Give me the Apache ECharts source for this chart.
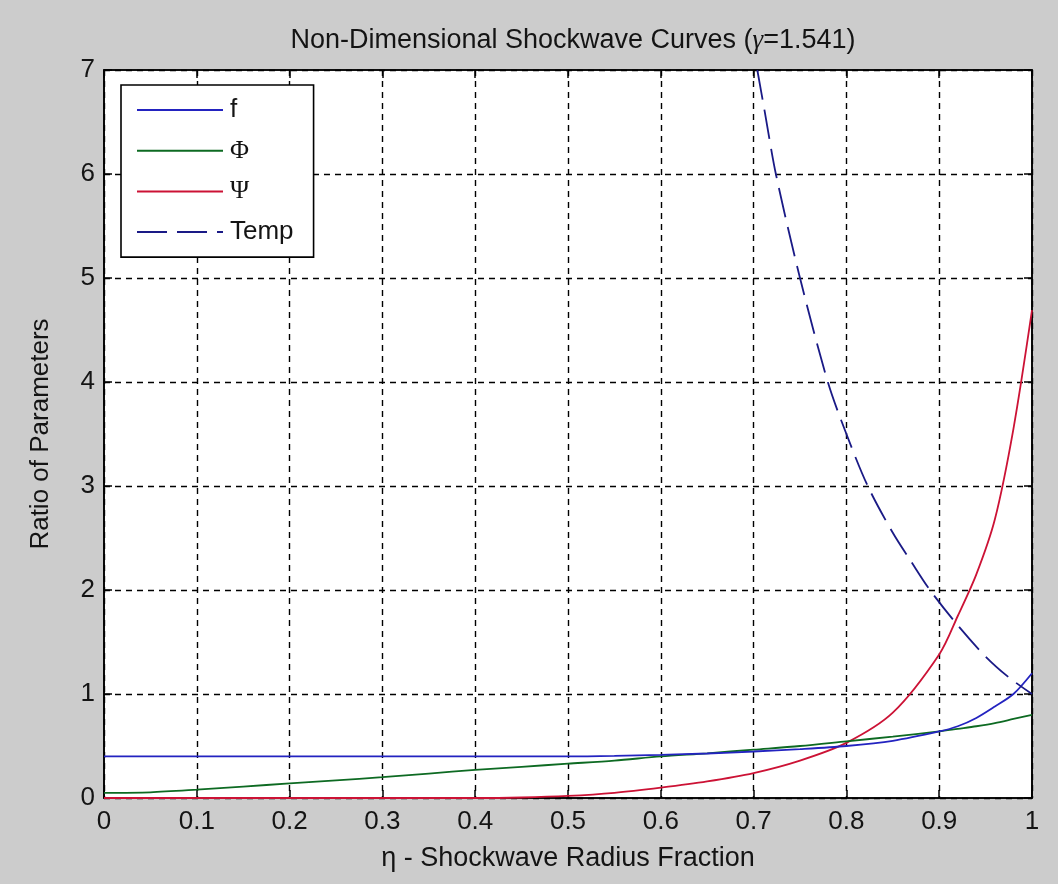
<!DOCTYPE html>
<html>
<head>
<meta charset="utf-8">
<title>Non-Dimensional Shockwave Curves</title>
<script src="https://cdn.jsdelivr.net/npm/echarts@6/dist/echarts.min.js"></script>
<style>
  html, body { margin: 0; padding: 0; background: #cccccc; }
  #chart { width: 1058px; height: 884px; }
</style>
</head>
<body>
<div id="chart"></div>
<script>
// Radius fraction samples shared by f, Phi and Psi
const eta = [0, 0.05, 0.1, 0.15, 0.2, 0.25, 0.3, 0.35, 0.4, 0.45, 0.5, 0.55, 0.6, 0.65, 0.7, 0.75, 0.8, 0.85, 0.9, 0.92, 0.94, 0.96, 0.98, 1.0];
const fVals = [0.40, 0.40, 0.40, 0.40, 0.40, 0.40, 0.40, 0.40, 0.40, 0.40, 0.40, 0.405, 0.415, 0.428, 0.447, 0.47, 0.50, 0.55, 0.64, 0.69, 0.77, 0.88, 1.0, 1.2];
const phiVals = [0.05, 0.055, 0.08, 0.11, 0.14, 0.17, 0.20, 0.235, 0.27, 0.30, 0.33, 0.36, 0.40, 0.43, 0.465, 0.50, 0.545, 0.59, 0.64, 0.665, 0.69, 0.72, 0.76, 0.80];
const psiVals = [0, 0, 0, 0, 0, 0, 0, 0, 0, 0.005, 0.02, 0.05, 0.10, 0.16, 0.24, 0.36, 0.53, 0.82, 1.38, 1.75, 2.15, 2.68, 3.55, 4.69];

// Temperature ratio (only inside the plotted range)
const tempEta = [0.704, 0.712, 0.724, 0.75, 0.78, 0.80, 0.823, 0.85, 0.87, 0.89, 0.92, 0.95, 0.975, 1.0];
const tempVals = [7.0, 6.6, 6.0, 5.0, 4.0, 3.5, 3.0, 2.55, 2.27, 2.0, 1.66, 1.36, 1.16, 1.0];

const xTickLabels = ['0', '0.1', '0.2', '0.3', '0.4', '0.5', '0.6', '0.7', '0.8', '0.9', '1'];
const yTickLabels = ['0', '1', '2', '3', '4', '5', '6', '7'];

const seriesNames = ['f', 'Φ', 'Ψ', 'Temp'];

function pairs(xs, ys) {
  return xs.map((x, i) => [x, ys[i]]);
}

const FONT = '"Liberation Sans", Arial, sans-serif';
const SERIF = '"Liberation Serif", "DejaVu Serif", serif';
const TXT = '#141414';
const FS = 26;

// Plot box in pixels
const PLOT = { left: 104, right: 26, top: 70, bottom: 86 };
const plotCenterX = PLOT.left + (1058 - PLOT.left - PLOT.right) / 2;

const chart = echarts.init(document.getElementById('chart'), null, { renderer: 'canvas' });

function gridLine() { return { show: true, lineStyle: { color: '#000', type: [6, 5], width: 1.4 } }; }
function tickIn() { return { show: true, inside: true, length: 8, lineStyle: { color: '#000', width: 1.5 } }; }
function axisLineBlack() { return { show: true, onZero: false, lineStyle: { color: '#000', width: 1.6 } }; }

chart.setOption({
  backgroundColor: '#cccccc',
  animation: false,
  title: {
    text: 'Non-Dimensional Shockwave Curves ({g|γ}=1.541)',
    left: plotCenterX,
    textAlign: 'center',
    top: 22,
    textStyle: {
      fontFamily: FONT, fontSize: 27, fontWeight: 'normal', color: TXT,
      rich: { g: { fontFamily: SERIF, fontStyle: 'italic', fontSize: 27, color: TXT } }
    }
  },
  grid: { left: PLOT.left, right: PLOT.right, top: PLOT.top, bottom: PLOT.bottom, show: true, backgroundColor: '#ffffff', borderColor: '#000', borderWidth: 1.6 },
  legend: {
    orient: 'vertical',
    left: 121,
    top: 85,
    data: seriesNames,
    itemWidth: 86,
    itemHeight: 22,
    itemGap: 14.7,
    padding: [12, 20, 12, 15],
    backgroundColor: '#ffffff',
    borderColor: '#000',
    borderWidth: 1.6,
    borderRadius: 0,
    itemStyle: { opacity: 0 },
    textStyle: {
      fontFamily: FONT, fontSize: FS, color: TXT, padding: [0, 0, 0, 2],
      rich: { g: { fontFamily: SERIF, fontSize: FS, color: TXT } }
    },
    formatter: name => (name === 'Φ' || name === 'Ψ') ? '{g|' + name + '}' : name
  },
  xAxis: [
    {
      type: 'value', min: 0, max: 1, interval: 0.1, position: 'bottom',
      name: 'η - Shockwave Radius Fraction',
      nameLocation: 'middle', nameGap: 47,
      nameTextStyle: { fontFamily: FONT, fontSize: 27, color: TXT },
      axisLine: axisLineBlack(), axisTick: tickIn(), splitLine: gridLine(),
      axisLabel: {
        fontFamily: FONT, fontSize: FS, color: TXT, margin: 11,
        formatter: (v, i) => xTickLabels[i]
      }
    },
    {
      type: 'value', min: 0, max: 1, interval: 0.1, position: 'top',
      axisLine: axisLineBlack(), axisTick: tickIn(), splitLine: { show: false }, axisLabel: { show: false }
    }
  ],
  yAxis: [
    {
      type: 'value', min: 0, max: 7, interval: 1, position: 'left',
      name: 'Ratio of Parameters',
      nameLocation: 'middle', nameGap: 50,
      nameTextStyle: { fontFamily: FONT, fontSize: FS, color: TXT },
      axisLine: axisLineBlack(), axisTick: tickIn(), splitLine: gridLine(),
      axisLabel: {
        fontFamily: FONT, fontSize: FS, color: TXT, margin: 9,
        formatter: (v, i) => yTickLabels[i]
      }
    },
    {
      type: 'value', min: 0, max: 7, interval: 1, position: 'right',
      axisLine: axisLineBlack(), axisTick: tickIn(), splitLine: { show: false }, axisLabel: { show: false }
    }
  ],
  series: [
    {
      name: 'f', type: 'line', symbol: 'none', smooth: 0.3, clip: true,
      lineStyle: { color: '#2323c0', width: 1.8 }, itemStyle: { color: '#2323c0' },
      data: pairs(eta, fVals), z: 4
    },
    {
      name: 'Φ', type: 'line', symbol: 'none', smooth: 0.3, clip: true,
      lineStyle: { color: '#0d6a22', width: 1.8 }, itemStyle: { color: '#0d6a22' },
      data: pairs(eta, phiVals), z: 3
    },
    {
      name: 'Ψ', type: 'line', symbol: 'none', smooth: 0.3, clip: true,
      lineStyle: { color: '#cc1235', width: 1.8 }, itemStyle: { color: '#cc1235' },
      data: pairs(eta, psiVals), z: 2
    },
    {
      name: 'Temp', type: 'line', symbol: 'none', smooth: 0.3, clip: true,
      lineStyle: { color: '#1a1a86', width: 1.8, type: [30, 10] }, itemStyle: { color: '#1a1a86' },
      data: pairs(tempEta, tempVals), z: 5
    }
  ]
});
</script>
</body>
</html>
